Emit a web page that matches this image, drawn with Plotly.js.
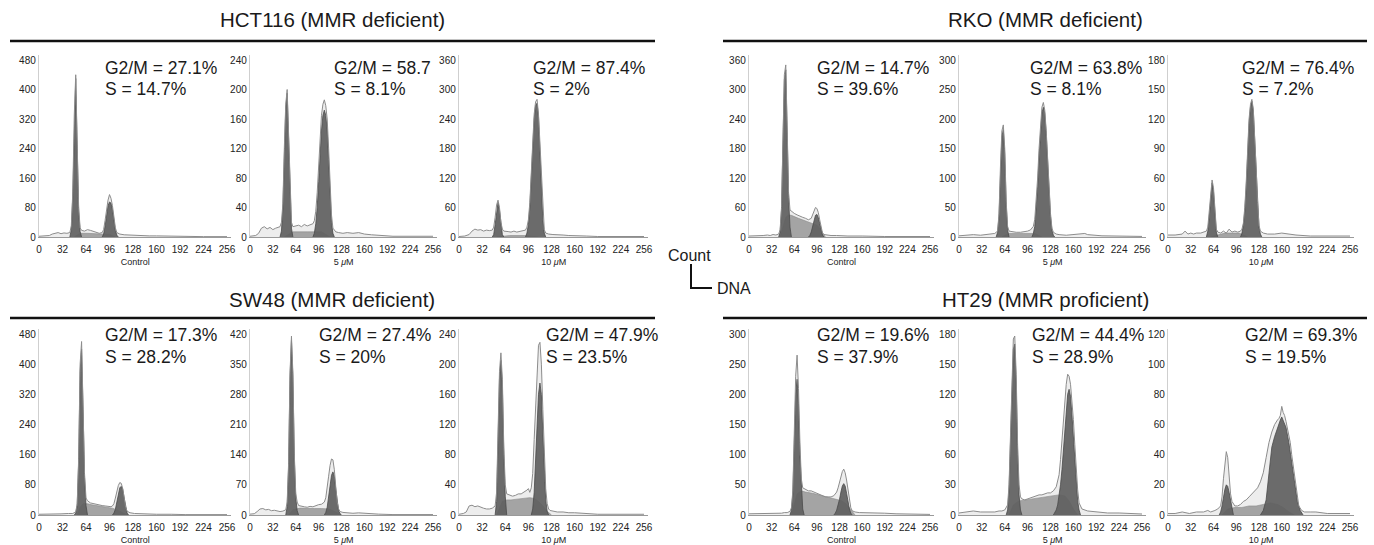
<!DOCTYPE html>
<html>
<head>
<meta charset="utf-8">
<script src="https://cdn.plot.ly/plotly-3.0.1.min.js"></script>
<style>html,body{margin:0;padding:0;background:#fff;}#chart{width:1374px;height:545px;}</style>
</head>
<body>
<div id="chart"></div>
<script>
// ---------- DATA ----------
const groupTitles = ['HCT116 (MMR deficient)', 'RKO (MMR deficient)', 'SW48 (MMR deficient)', 'HT29 (MMR proficient)'];
const doseLabels = ['Control', '5 <i>μ</i>M', '10 <i>μ</i>M'];
const xTicks = [0, 32, 64, 96, 128, 160, 192, 224, 256];
const yMax = [480, 240, 360, 360, 300, 180, 480, 420, 240, 300, 180, 120];
const g2mText = ['G2/M = 27.1%', 'G2/M = 58.7', 'G2/M = 87.4%', 'G2/M = 14.7%', 'G2/M = 63.8%', 'G2/M = 76.4%',
                 'G2/M = 17.3%', 'G2/M = 27.4%', 'G2/M = 47.9%', 'G2/M = 19.6%', 'G2/M = 44.4%', 'G2/M = 69.3%'];
const sText = ['S = 14.7%', 'S = 8.1%', 'S = 2%', 'S = 39.6%', 'S = 8.1%', 'S = 7.2%',
               'S = 28.2%', 'S = 20%', 'S = 23.5%', 'S = 37.9%', 'S = 28.9%', 'S = 19.5%'];

// Panel 1: HCT116 control
const p1_rawX = [0,8,14,18,22,26,30,34,38,42,44,46,48,50,52,54,56,58,62,66,70,74,78,82,86,88,90,92,94,96,98,100,102,104,106,110,116,124,132,140,150,160,176,192,224,256];
const p1_rawY = [2,2,4,8,10,12,9,11,10,12,30,120,330,440,250,80,25,18,16,20,18,15,12,10,12,20,45,80,100,115,105,85,55,25,12,8,6,5,6,4,3,3,2,1,1,1];
const p1_g1X = [42,44,46,48,50,52,54,56,58];
const p1_g1Y = [0,20,110,320,430,240,70,15,0];
const p1_sX = [48,56,66,76,86,96,104];
const p1_sY = [0,10,10,9,8,7,0];
const p1_g2X = [86,88,90,92,94,96,98,100,102,104,106,108];
const p1_g2Y = [0,8,30,60,85,95,92,75,45,18,5,0];

// Panel 2: HCT116 5 uM
const p2_rawX = [0,8,12,16,20,24,28,32,36,40,42,44,46,48,50,52,54,56,58,60,64,68,72,76,80,84,88,90,92,94,96,98,100,102,104,106,108,110,112,114,116,120,124,130,136,144,152,160,170,180,200,256];
const p2_rawY = [1,2,5,12,14,11,13,10,12,13,14,20,45,120,180,200,140,60,20,14,15,16,14,17,15,16,18,22,35,60,100,140,165,180,186,178,160,120,70,30,12,7,6,5,6,5,6,4,3,2,1,1];
const p2_g1X = [42,44,46,48,50,52,54,56,58,60];
const p2_g1Y = [0,8,40,115,175,195,135,55,12,0];
const p2_sX = [48,60,80,100,112];
const p2_sY = [0,7,7,7,0];
const p2_g2X = [88,90,92,94,96,98,100,102,104,106,108,110,112,114,116,118];
const p2_g2Y = [0,5,18,40,75,115,145,165,172,165,145,105,55,20,5,0];

// Panel 3: HCT116 10 uM
const p3_rawX = [0,8,14,18,22,26,30,34,38,42,46,48,50,52,54,56,58,60,62,64,68,72,76,80,84,88,92,94,96,98,100,102,104,106,108,110,112,114,116,118,120,124,130,136,144,152,160,176,192,256];
const p3_rawY = [1,2,5,12,16,14,15,12,14,13,14,20,40,65,75,60,30,16,12,12,11,10,12,10,11,12,14,20,35,70,130,200,250,275,280,250,190,110,45,15,8,6,5,4,4,3,3,2,1,1];
const p3_g1X = [46,48,50,52,54,56,58,60,62];
const p3_g1Y = [0,5,25,55,70,55,22,5,0];
const p3_sX = [52,70,90,110];
const p3_sY = [0,3,3,0];
const p3_g2X = [92,94,96,98,100,102,104,106,108,110,112,114,116,118,120];
const p3_g2Y = [0,8,25,60,120,190,240,268,272,245,180,100,35,8,0];

// Panel 4: RKO control
const p4_rawX = [0,10,20,26,30,34,38,42,44,46,48,50,52,54,56,58,60,62,64,68,72,76,80,84,88,90,92,94,96,98,100,102,104,106,110,116,124,132,140,160,192,256];
const p4_rawY = [2,2,3,4,3,5,4,6,15,60,200,330,350,220,90,55,52,50,48,45,42,40,38,35,38,45,55,60,58,50,35,18,8,5,4,3,3,2,2,2,1,1];
const p4_g1X = [42,44,46,48,50,52,54,56,58,60];
const p4_g1Y = [0,10,55,190,320,340,210,80,20,0];
const p4_sX = [44,48,52,56,60,70,80,90,96,100,104,108];
const p4_sY = [0,20,40,45,44,38,33,28,24,18,8,0];
const p4_g2X = [84,86,88,90,92,94,96,98,100,102,104,106];
const p4_g2Y = [0,3,10,22,35,44,46,40,28,14,4,0];

// Panel 5: RKO 5 uM
const p5_rawX = [0,10,20,30,40,46,50,54,56,58,60,62,64,66,68,70,74,80,86,92,96,100,104,106,108,110,112,114,116,118,120,122,124,126,128,130,132,136,140,150,160,170,176,180,190,200,256];
const p5_rawY = [2,3,4,3,4,5,6,10,40,120,180,190,150,60,18,10,9,8,8,9,10,12,18,30,60,100,150,195,220,228,215,180,130,80,40,15,8,5,4,3,4,5,6,4,3,2,1];
const p5_g1X = [52,54,56,58,60,62,64,66,68,70];
const p5_g1Y = [0,8,35,110,170,182,140,55,12,0];
const p5_sX = [60,70,90,106,116];
const p5_sY = [0,6,6,6,0];
const p5_g2X = [102,104,106,108,110,112,114,116,118,120,122,124,126,128,130,132,134];
const p5_g2Y = [0,6,18,45,85,135,180,210,220,210,175,125,75,35,12,3,0];

// Panel 6: RKO 10 uM
const p6_rawX = [0,10,20,24,28,32,36,40,46,50,54,56,58,60,62,64,66,68,70,74,78,82,86,90,94,98,102,104,106,108,110,112,114,116,118,120,122,124,126,128,130,134,140,150,160,170,180,200,256];
const p6_rawY = [2,2,3,6,3,4,3,4,4,5,6,10,25,45,58,50,25,8,5,4,6,4,8,5,6,5,6,8,14,30,55,90,120,135,140,130,105,70,35,12,6,4,3,3,4,3,2,1,1];
const p6_g1X = [54,56,58,60,62,64,66,68,70];
const p6_g1Y = [0,6,20,42,55,46,20,5,0];
const p6_sX = [60,80,100,112];
const p6_sY = [0,4,4,0];
const p6_g2X = [102,104,106,108,110,112,114,116,118,120,122,124,126,128,130,132];
const p6_g2Y = [0,4,12,26,50,85,115,132,138,128,100,65,30,10,3,0];

// Panel 7: SW48 control
const p7_rawX = [0,10,20,30,40,46,50,52,54,56,58,60,62,64,66,70,74,78,82,86,90,94,98,100,102,104,106,108,110,112,114,116,118,120,124,130,140,150,160,180,200,256];
const p7_rawY = [2,2,3,3,4,4,8,30,150,400,460,300,110,45,38,32,30,28,26,25,24,22,22,24,30,45,62,78,86,84,70,45,20,10,6,4,3,3,2,2,1,1];
const p7_g1X = [48,50,52,54,56,58,60,62,64,66];
const p7_g1Y = [0,5,25,140,380,440,280,100,25,0];
const p7_sX = [52,56,60,66,72,80,90,100,108,114,120];
const p7_sY = [0,20,30,30,27,24,21,18,12,5,0];
const p7_g2X = [100,102,104,106,108,110,112,114,116,118,120,122];
const p7_g2Y = [0,5,15,35,58,72,76,68,45,20,5,0];

// Panel 8: SW48 5 uM
const p8_rawX = [0,6,10,14,18,22,26,30,34,38,42,46,50,52,54,56,58,60,62,64,66,68,72,76,80,84,88,92,96,100,104,106,108,110,112,114,116,118,120,122,124,126,130,136,144,152,160,170,180,200,256];
const p8_rawY = [2,3,8,14,15,12,13,10,11,9,8,9,12,30,120,330,415,330,140,50,30,22,20,19,18,20,19,22,24,25,30,40,60,90,115,130,128,105,65,30,14,8,6,5,4,5,4,3,2,1,1];
const p8_g1X = [50,52,54,56,58,60,62,64,66,68];
const p8_g1Y = [0,20,110,320,405,320,130,40,10,0];
const p8_sX = [54,60,70,80,90,100,110,116,122,128];
const p8_sY = [0,12,16,15,15,15,14,10,4,0];
const p8_g2X = [104,106,108,110,112,114,116,118,120,122,124,126,128];
const p8_g2Y = [0,6,18,40,70,92,100,90,60,30,10,3,0];

// Panel 9: SW48 10 uM
const p9_rawX = [0,6,10,14,18,22,26,30,34,38,42,46,50,52,54,56,58,60,62,64,66,70,74,78,82,86,90,94,96,98,100,102,104,106,108,110,112,114,116,118,120,122,124,126,130,136,144,152,160,176,192,256];
const p9_rawY = [1,2,4,12,13,11,12,10,9,8,8,9,12,30,110,190,215,180,90,40,28,26,25,26,28,28,30,33,35,30,36,55,100,150,200,225,229,200,140,75,35,15,8,6,5,4,4,3,3,2,1,1];
const p9_g1X = [50,52,54,56,58,60,62,64,66];
const p9_g1Y = [0,18,95,180,205,170,80,25,0];
const p9_sX = [52,56,60,66,72,80,90,98,104,110,116,122,128];
const p9_sY = [0,10,18,20,20,21,22,23,22,18,12,5,0];
const p9_g2X = [100,102,104,106,108,110,112,114,116,118,120,122,124];
const p9_g2Y = [0,8,30,70,120,160,175,160,110,55,20,5,0];

// Panel 10: HT29 control
const p10_rawX = [0,10,20,30,40,46,50,54,58,60,62,64,66,68,70,72,74,76,78,80,84,88,92,96,100,104,108,112,116,120,124,126,128,130,132,134,136,138,140,142,144,146,150,156,164,176,192,208,224,256];
const p10_rawY = [2,2,3,2,3,3,4,4,6,12,40,130,230,265,210,120,60,45,44,42,40,40,38,36,34,32,30,30,30,32,38,45,55,65,72,76,70,58,40,22,12,7,5,4,4,3,3,2,2,1];
const p10_g1X = [58,60,62,64,66,68,70,72,74,76,78];
const p10_g1Y = [0,8,35,120,200,225,185,100,40,10,0];
const p10_sX = [60,64,68,74,80,90,100,110,120,130,138,144,150];
const p10_sY = [0,20,35,40,38,36,33,30,27,24,18,8,0];
const p10_g2X = [120,122,124,126,128,130,132,134,136,138,140,142,144,146];
const p10_g2Y = [0,3,8,16,26,38,48,52,48,36,22,10,3,0];

// Panel 11: HT29 5 uM
const p11_rawX = [0,10,20,30,40,50,56,60,64,68,70,72,74,76,78,80,82,84,86,88,92,96,100,104,108,112,116,120,124,128,132,136,140,142,144,146,148,150,152,154,156,158,160,162,164,166,168,172,180,192,208,224,256];
const p11_rawY = [2,3,4,3,3,3,4,4,5,10,30,80,140,175,178,140,70,30,18,16,15,16,17,18,19,20,20,21,22,22,24,28,40,55,75,95,115,130,140,138,130,115,95,70,45,25,12,6,4,3,2,2,1];
const p11_g1X = [66,68,70,72,74,76,78,80,82,84,86,88];
const p11_g1Y = [0,5,25,75,130,165,170,130,60,20,5,0];
const p11_sX = [70,76,84,92,100,110,120,130,140,148,154,160,166];
const p11_sY = [0,10,14,15,16,17,18,19,20,19,14,6,0];
const p11_g2X = [132,136,138,140,142,144,146,148,150,152,154,156,158,160,162,164,166,168,170];
const p11_g2Y = [0,5,10,18,30,45,65,85,105,120,125,118,100,78,52,30,14,5,0];

// Panel 12: HT29 10 uM
const p12_rawX = [0,10,20,30,40,50,56,60,66,70,74,76,78,80,82,84,86,88,90,92,94,98,102,106,110,114,118,122,126,130,134,138,142,146,150,154,156,158,160,162,164,166,168,170,172,174,176,178,180,182,184,188,192,200,208,224,256];
const p12_rawY = [1,1,2,1,2,2,3,2,3,4,6,12,24,36,42,38,26,14,9,7,6,6,7,9,10,12,14,16,18,22,28,38,48,55,60,63,64,66,72,68,66,62,58,54,48,40,33,26,18,11,6,3,2,2,2,1,1];
const p12_g1X = [72,74,76,78,80,82,84,86,88,90,92];
const p12_g1Y = [0,2,6,12,17,20,19,15,9,4,0];
const p12_sX = [76,84,94,104,114,124,134,144,154,162,170,178];
const p12_sY = [0,4,5,5,6,6,7,8,7,5,2,0];
const p12_g2X = [130,134,138,142,146,150,154,158,160,162,166,170,174,178,182,186,190];
const p12_g2Y = [0,3,10,30,45,52,58,63,65,63,58,48,35,20,9,3,0];

// ---------- assemble ----------
const panels = [
  [p1_rawX,p1_rawY,p1_g1X,p1_g1Y,p1_sX,p1_sY,p1_g2X,p1_g2Y],
  [p2_rawX,p2_rawY,p2_g1X,p2_g1Y,p2_sX,p2_sY,p2_g2X,p2_g2Y],
  [p3_rawX,p3_rawY,p3_g1X,p3_g1Y,p3_sX,p3_sY,p3_g2X,p3_g2Y],
  [p4_rawX,p4_rawY,p4_g1X,p4_g1Y,p4_sX,p4_sY,p4_g2X,p4_g2Y],
  [p5_rawX,p5_rawY,p5_g1X,p5_g1Y,p5_sX,p5_sY,p5_g2X,p5_g2Y],
  [p6_rawX,p6_rawY,p6_g1X,p6_g1Y,p6_sX,p6_sY,p6_g2X,p6_g2Y],
  [p7_rawX,p7_rawY,p7_g1X,p7_g1Y,p7_sX,p7_sY,p7_g2X,p7_g2Y],
  [p8_rawX,p8_rawY,p8_g1X,p8_g1Y,p8_sX,p8_sY,p8_g2X,p8_g2Y],
  [p9_rawX,p9_rawY,p9_g1X,p9_g1Y,p9_sX,p9_sY,p9_g2X,p9_g2Y],
  [p10_rawX,p10_rawY,p10_g1X,p10_g1Y,p10_sX,p10_sY,p10_g2X,p10_g2Y],
  [p11_rawX,p11_rawY,p11_g1X,p11_g1Y,p11_sX,p11_sY,p11_g2X,p11_g2Y],
  [p12_rawX,p12_rawY,p12_g1X,p12_g1Y,p12_sX,p12_sY,p12_g2X,p12_g2Y]
];

// ---------- layout geometry (pixels) ----------
const W = 1374, H = 545;
const colPx = [[39,227],[250,433],[459,644],[749,930],[959,1142],[1168,1350]];
const rowPx = [[60,237],[334,515]]; // [top tick pixel, zero pixel]
const annX = [[103,332,531,815,1028,1240],[103,317,544,815,1030,1243]];
const annY = [[68,89],[335,357]];
const FONT = 'Liberation Sans, Arial, Helvetica, sans-serif';

const traces = [];
const layout = {
  width: W, height: H,
  margin: {l:0, r:0, t:0, b:0},
  paper_bgcolor: '#fff', plot_bgcolor: '#fff',
  showlegend: false,
  font: {family: FONT, color: '#222'},
  annotations: [], shapes: []
};

panels.forEach((p, i) => {
  const row = Math.floor(i / 6), col = i % 6;
  const n = i + 1;
  const xa = n === 1 ? 'x' : 'x' + n;
  const ya = n === 1 ? 'y' : 'y' + n;
  const [a, b] = colPx[col];
  const xr1 = 262;
  const bpx = a + (b - a) * xr1 / 256;
  const [top, zero] = rowPx[row];
  const yr1 = yMax[i] * 1.03;
  const toppx = zero - (zero - top) * 1.03;

  const [rx, ry, g1x, g1y, sx, sy, g2x, g2y] = p;
  const common = {xaxis: xa, yaxis: ya, mode: 'lines', hoverinfo: 'skip', type: 'scatter'};
  traces.push(Object.assign({x: rx, y: ry, fill: 'tozeroy', fillcolor: 'rgba(222,222,222,0.55)', line: {width: 0, color: 'rgba(0,0,0,0)'}}, common));
  traces.push(Object.assign({x: sx, y: sy, fill: 'tozeroy', fillcolor: 'rgba(150,150,150,0.85)', line: {width: 0.6, color: '#8a8a8a'}}, common));
  traces.push(Object.assign({x: g1x, y: g1y, fill: 'tozeroy', fillcolor: 'rgba(95,95,95,0.92)', line: {width: 0.8, color: '#4a4a4a'}}, common));
  traces.push(Object.assign({x: g2x, y: g2y, fill: 'tozeroy', fillcolor: 'rgba(95,95,95,0.92)', line: {width: 0.8, color: '#4a4a4a'}}, common));
  traces.push(Object.assign({x: rx, y: ry, line: {width: 1, color: '#8c8c8c'}}, common));

  layout['xaxis' + (n === 1 ? '' : n)] = {
    domain: [a / W, bpx / W], anchor: ya, range: [0, xr1],
    tickvals: xTicks, ticktext: xTicks.map(String), ticks: '', showgrid: false, zeroline: false,
    showline: true, linecolor: '#9a9a9a', linewidth: 1.2, ticklabelstandoff: 3,
    tickfont: {size: 10, family: FONT, color: '#222'},
    title: {text: doseLabels[col % 3], font: {size: 9, family: FONT, color: '#222'}, standoff: 4},
    fixedrange: true
  };
  layout['yaxis' + (n === 1 ? '' : n)] = {
    domain: [1 - zero / H, 1 - toppx / H], anchor: xa, range: [0, yr1],
    dtick: yMax[i] / 6, tick0: 0, ticks: '', showgrid: false, zeroline: false,
    showline: true, linecolor: '#cfcfcf', linewidth: 1.2,
    tickfont: {size: 10, family: FONT, color: '#222'},
    fixedrange: true
  };

  const ax = annX[row][col];
  layout.annotations.push({xref: 'paper', yref: 'paper', x: ax / W, y: 1 - annY[row][0] / H, xanchor: 'left', yanchor: 'middle',
    text: g2mText[i], showarrow: false, font: {size: 17.5, family: FONT, color: '#1a1a1a'}});
  layout.annotations.push({xref: 'paper', yref: 'paper', x: ax / W, y: 1 - annY[row][1] / H, xanchor: 'left', yanchor: 'middle',
    text: sText[i], showarrow: false, font: {size: 17.5, family: FONT, color: '#1a1a1a'}});
});

// group titles & rules
const titlePos = [[332, 19], [1045, 19], [332, 299], [1045, 299]];
const rulePos = [[10, 655, 41], [723, 1367, 41], [10, 655, 318], [723, 1367, 318]];
groupTitles.forEach((t, k) => {
  layout.annotations.push({xref: 'paper', yref: 'paper', x: titlePos[k][0] / W, y: 1 - titlePos[k][1] / H,
    xanchor: 'center', yanchor: 'middle', text: t, showarrow: false, font: {size: 20.5, family: FONT, color: '#1a1a1a'}});
  layout.shapes.push({type: 'line', xref: 'paper', yref: 'paper', x0: rulePos[k][0] / W, x1: rulePos[k][1] / W,
    y0: 1 - rulePos[k][2] / H, y1: 1 - rulePos[k][2] / H, line: {color: '#111', width: 2.5}});
});

// Count / DNA key
layout.annotations.push({xref: 'paper', yref: 'paper', x: 690 / W, y: 1 - 255 / H, xanchor: 'center', yanchor: 'middle',
  text: 'Count', showarrow: false, font: {size: 16, family: FONT, color: '#1a1a1a'}});
layout.annotations.push({xref: 'paper', yref: 'paper', x: 715 / W, y: 1 - 288 / H, xanchor: 'left', yanchor: 'middle',
  text: 'DNA', showarrow: false, font: {size: 16, family: FONT, color: '#1a1a1a'}});
layout.shapes.push({type: 'path', xref: 'paper', yref: 'paper',
  path: 'M ' + (691 / W) + ' ' + (1 - 264 / H) + ' L ' + (691 / W) + ' ' + (1 - 288 / H) + ' L ' + (712 / W) + ' ' + (1 - 288 / H),
  line: {color: '#111', width: 2}});

Plotly.newPlot('chart', traces, layout, {staticPlot: true, displayModeBar: false});
</script>
</body>
</html>
